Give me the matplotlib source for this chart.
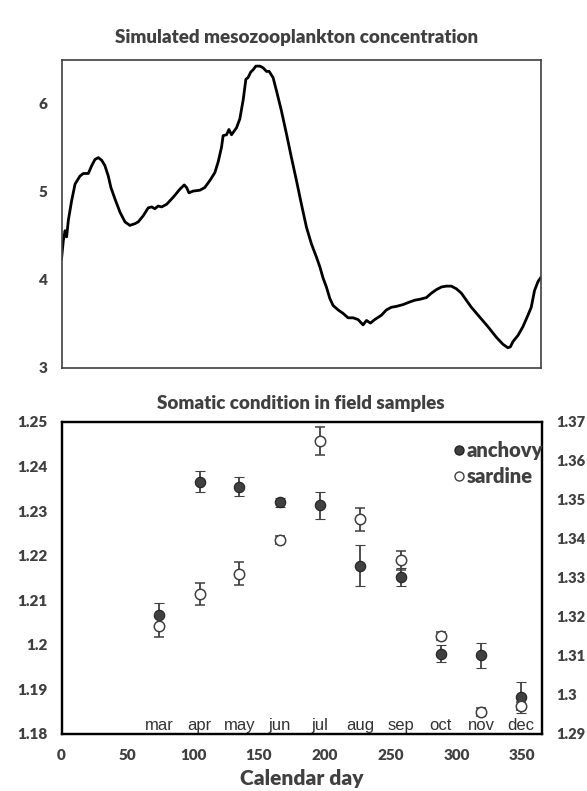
import matplotlib
matplotlib.use('Agg')
import matplotlib.pyplot as plt
from matplotlib.lines import Line2D

plt.rcParams['font.family'] = ['Lato', 'DejaVu Sans']

# Simulated mesozooplankton concentration
sim_day = [0, 1.4, 2.7, 3.9, 5.2, 7.7, 10.3, 14, 16.6, 20.4, 23, 25.5, 28, 30.6, 33,
           35.6, 37.6, 40.7, 44.5, 48.3, 52, 55.9, 58.4, 62.2, 66, 68.6, 71, 73.6,
           76.2, 80, 85, 90, 93.4, 95.2, 97, 100.2, 105.3, 109, 112.9, 116.7, 119.2,
           121.8, 123, 125.6, 127.4, 129.4, 133.2, 135.7, 138.3, 140.3, 142, 143.9,
           145.9, 147.9, 151, 153.5, 156, 158, 161, 163.6, 167.4, 171.2, 175, 178.8,
           182.6, 186.4, 190.2, 194, 196.6, 199.1, 201.6, 204.2, 206.7, 210.5, 214.3,
           218.1, 221.9, 225.7, 229.5, 232.1, 235.1, 238.4, 243.5, 247.3, 251.1,
           254.9, 259.9, 265, 268.8, 272.6, 277.7, 281.5, 285.3, 289.1, 292.9, 296.7,
           300.5, 304.3, 308.1, 311.9, 318.2, 324.5, 330.9, 335.9, 339.7, 341.6,
           343.6, 347.4, 351.2, 355, 357.5, 360, 362.6, 364.4]
sim_conc = [4.24, 4.45, 4.56, 4.49, 4.68, 4.90, 5.09, 5.18, 5.21, 5.21, 5.30, 5.37, 5.39,
            5.36, 5.30, 5.18, 5.05, 4.92, 4.77, 4.66, 4.62, 4.64, 4.66, 4.73, 4.82, 4.83,
            4.81, 4.84, 4.83, 4.86, 4.94, 5.03, 5.08, 5.05, 4.99, 5.01, 5.02, 5.05, 5.13,
            5.22, 5.34, 5.51, 5.64, 5.65, 5.71, 5.65, 5.73, 5.83, 6.05, 6.28, 6.30, 6.36,
            6.39, 6.43, 6.43, 6.41, 6.37, 6.37, 6.30, 6.15, 5.92, 5.66, 5.39, 5.13, 4.86,
            4.60, 4.41, 4.26, 4.15, 4.02, 3.92, 3.79, 3.71, 3.66, 3.62, 3.57, 3.57, 3.55,
            3.49, 3.54, 3.51, 3.55, 3.60, 3.66, 3.69, 3.70, 3.72, 3.75, 3.77, 3.78, 3.80,
            3.85, 3.89, 3.92, 3.93, 3.93, 3.90, 3.85, 3.77, 3.69, 3.58, 3.47, 3.35, 3.27,
            3.23, 3.24, 3.30, 3.37, 3.47, 3.60, 3.69, 3.88, 3.98, 4.02]

# Field samples
months = ['mar', 'apr', 'may', 'jun', 'jul', 'aug', 'sep', 'oct', 'nov', 'dec']
sample_day = [74, 105, 135, 166, 196, 227, 258, 288, 319, 349]
anchovy = [1.2067, 1.2366, 1.2355, 1.2320, 1.2313, 1.2178, 1.2152, 1.1980, 1.1977, 1.1882]
anchovy_err = [0.0026, 0.0024, 0.0021, 0.0010, 0.0030, 0.0045, 0.0020, 0.0019, 0.0028, 0.0035]
sardine = [1.3178, 1.3259, 1.3311, 1.3397, 1.3651, 1.3450, 1.3345, 1.3152, 1.2956, 1.2972]
sardine_err = [0.0030, 0.0029, 0.0029, 0.0010, 0.0036, 0.0030, 0.0025, 0.0010, 0.0010, 0.0010]

gray = '#404040'
wt = 'heavy'

fig = plt.figure(figsize=(5.87, 7.91), dpi=100)

# top panel
ax1 = fig.add_axes([0.1048, 0.5348, 0.817, 0.3894])
ax1.plot(sim_day, sim_conc, color='black', lw=2.0)
ax1.set_xlim(0, 365)
ax1.set_ylim(3, 6.5)
ax1.set_yticks([3, 4, 5, 6])
ax1.set_xticks([])
ax1.tick_params(axis='y', length=0, pad=10, labelsize=11, labelcolor=gray)
for lab in ax1.get_yticklabels():
    lab.set_fontweight(wt)
for s in ax1.spines.values():
    s.set_color(gray)
    s.set_linewidth(1.2)
fig.text(0.505, 0.952, 'Simulated mesozooplankton concentration', ha='center', va='center',
         fontsize=13.5, fontweight=wt, color=gray)

# bottom panel
ax2 = fig.add_axes([0.1048, 0.0721, 0.8186, 0.3944])
ax3 = ax2.twinx()
ax2.errorbar(sample_day, anchovy, yerr=anchovy_err, fmt='o', ms=7.5, mfc=gray, mec='#222222',
             mew=0.8, ecolor=gray, elinewidth=1.3, capsize=3.5, capthick=1.3, zorder=3)
ax3.errorbar(sample_day, sardine, yerr=sardine_err, fmt='o', ms=7.5, mfc='white', mec=gray,
             mew=1.1, ecolor=gray, elinewidth=1.3, capsize=3.5, capthick=1.3, zorder=3)
ax2.set_xlim(0, 365)
ax2.set_ylim(1.18, 1.25)
ax3.set_ylim(1.29, 1.37)
ax2.set_xticks(range(0, 351, 50))
ax2.set_yticks([1.18, 1.19, 1.2, 1.21, 1.22, 1.23, 1.24, 1.25])
ax2.set_yticklabels(['1.18', '1.19', '1.2', '1.21', '1.22', '1.23', '1.24', '1.25'])
ax3.set_yticks([1.29, 1.3, 1.31, 1.32, 1.33, 1.34, 1.35, 1.36, 1.37])
ax3.set_yticklabels(['1.29', '1.3', '1.31', '1.32', '1.33', '1.34', '1.35', '1.36', '1.37'])
ax2.tick_params(axis='y', length=0, pad=10, labelsize=11, labelcolor=gray)
ax2.tick_params(axis='x', length=0, pad=11, labelsize=11, labelcolor=gray)
ax3.tick_params(axis='y', length=0, pad=10, labelsize=10.5, labelcolor=gray)
for lab in ax2.get_yticklabels() + ax2.get_xticklabels() + ax3.get_yticklabels():
    lab.set_fontweight(wt)
for ax in (ax2, ax3):
    for s in ax.spines.values():
        s.set_color('black')
        s.set_linewidth(1.6)

for d, m in zip(sample_day, months):
    ax2.text(d, 0.013, m, transform=ax2.get_xaxis_transform(), ha='center', va='baseline',
             fontsize=12, color='#333333', family='Liberation Sans')

handles = [Line2D([], [], ls='none', marker='o', ms=6.5, mfc=gray, mec='#222222'),
           Line2D([], [], ls='none', marker='o', ms=6.5, mfc='white', mec=gray)]
leg = ax3.legend(handles, ['anchovy', 'sardine'], loc='upper right', bbox_to_anchor=(1.02, 0.965),
                 frameon=False, handlelength=0.6, handletextpad=0.12, labelspacing=0.35,
                 borderaxespad=0, prop={'size': 14.5, 'weight': wt})
for t in leg.get_texts():
    t.set_color(gray)

fig.text(0.513, 0.4905, 'Somatic condition in field samples', ha='center', va='center',
         fontsize=13.5, fontweight=wt, color=gray)
ax2.set_xlabel('Calendar day', fontsize=15, fontweight=wt, color=gray, labelpad=5)

fig.savefig('out.png', dpi=100)
